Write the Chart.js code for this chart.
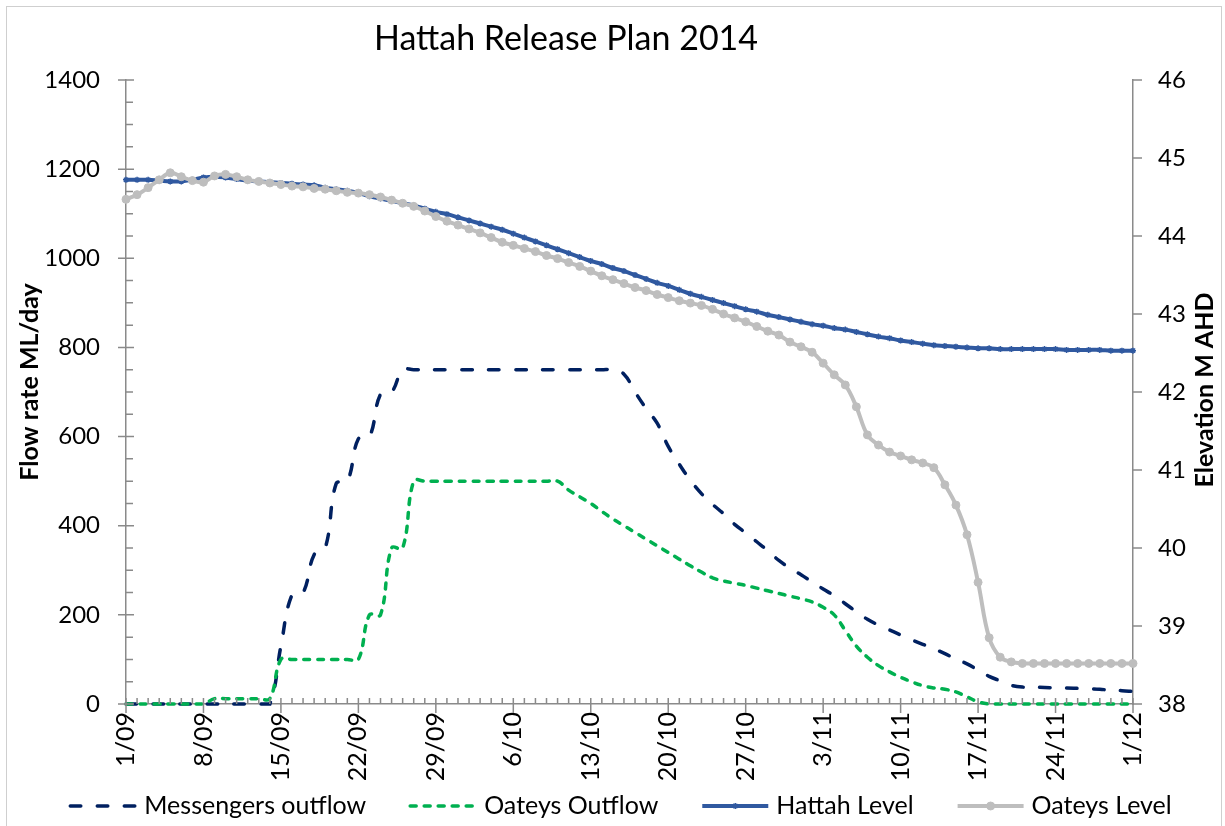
<!DOCTYPE html>
<html>
<head>
<meta charset="utf-8">
<title>Hattah Release Plan 2014</title>
<script src="https://cdn.jsdelivr.net/npm/chart.js@4.4.1/dist/chart.umd.min.js"></script>
<style>
    html, body { margin: 0; padding: 0; background: #fff; }
    #wrap { width: 1225px; height: 826px; position: relative; }
</style>
</head>
<body>
<div id="wrap"><canvas id="chart-release" width="1225" height="826"></canvas></div>
<script>
// Daily plan, 1 Sep 2014 -> 1 Dec 2014
const START_DATE = new Date(2014, 8, 1);
const DAY_COUNT = 92;

// Outflows (ML/day)
const messengersOutflow = [
    0, 0, 0, 0, 0, 0, 0, 0, 0, 0,
    0, 0, 0, 0, 130, 245, 250, 335, 350, 495,
    500, 595, 600, 695, 700, 750, 750, 750, 750, 750,
    750, 750, 750, 750, 750, 750, 750, 750, 750, 750,
    750, 750, 750, 750, 750, 740, 700, 663, 630, 578,
    538, 502, 472, 448, 427, 403, 384, 364, 344, 322,
    305, 290, 274, 258, 243, 225, 207, 190, 177, 166,
    155, 144, 134, 124, 113, 101, 90, 76, 62, 52,
    42, 38, 38, 37, 36, 36, 35, 34, 33, 31,
    30, 28
];
const oateysOutflow = [
    0, 0, 0, 0, 0, 0, 0, 0, 12, 12,
    12, 12, 12, 12, 100, 100, 100, 100, 100, 100,
    100, 100, 200, 200, 350, 350, 500, 500, 500, 500,
    500, 500, 500, 500, 500, 500, 500, 500, 500, 500,
    480, 465, 450, 432, 415, 400, 385, 370, 355, 340,
    325, 310, 296, 283, 276, 271, 266, 260, 254, 248,
    242, 236, 229, 217, 200, 165, 130, 105, 86, 72,
    60, 50, 41, 36, 33, 27, 16, 5, 0, 0,
    0, 0, 0, 0, 0, 0, 0, 0, 0, 0,
    0, 0
];

// Water levels (m AHD)
const hattahLevel = [
    44.72, 44.72, 44.72, 44.71, 44.70, 44.70, 44.72, 44.75, 44.76, 44.75,
    44.73, 44.71, 44.70, 44.69, 44.68, 44.67, 44.66, 44.65, 44.62, 44.60,
    44.58, 44.55, 44.51, 44.48, 44.45, 44.42, 44.39, 44.35, 44.31, 44.28,
    44.24, 44.20, 44.16, 44.12, 44.08, 44.03, 43.98, 43.93, 43.88, 43.83,
    43.78, 43.73, 43.68, 43.64, 43.59, 43.55, 43.50, 43.45, 43.40, 43.36,
    43.31, 43.26, 43.22, 43.18, 43.14, 43.10, 43.06, 43.03, 42.99, 42.96,
    42.93, 42.90, 42.87, 42.85, 42.82, 42.80, 42.77, 42.74, 42.71, 42.69,
    42.66, 42.64, 42.62, 42.60, 42.59, 42.58, 42.57, 42.56, 42.56, 42.55,
    42.55, 42.55, 42.55, 42.55, 42.55, 42.54, 42.54, 42.54, 42.54, 42.53,
    42.53, 42.53
];
const oateysLevel = [
    44.47, 44.53, 44.62, 44.72, 44.81, 44.76, 44.71, 44.69, 44.77, 44.79,
    44.76, 44.72, 44.70, 44.68, 44.66, 44.64, 44.63, 44.61, 44.60, 44.58,
    44.56, 44.55, 44.53, 44.50, 44.46, 44.42, 44.38, 44.32, 44.25, 44.19,
    44.14, 44.09, 44.04, 43.98, 43.92, 43.88, 43.84, 43.80, 43.75, 43.71,
    43.66, 43.61, 43.55, 43.49, 43.44, 43.39, 43.34, 43.30, 43.25, 43.21,
    43.17, 43.14, 43.11, 43.06, 43.00, 42.95, 42.90, 42.84, 42.78, 42.73,
    42.64, 42.58, 42.51, 42.37, 42.22, 42.09, 41.81, 41.45, 41.32, 41.23,
    41.18, 41.13, 41.09, 41.03, 40.81, 40.55, 40.17, 39.56, 38.85, 38.60,
    38.54, 38.52, 38.52, 38.52, 38.52, 38.52, 38.52, 38.52, 38.52, 38.52,
    38.52, 38.52
];

const FONT = "Lato, 'Open Sans', sans-serif";
const AXIS_COLOR = '#8a8a8a';

function buildDayLabels() {
    const labels = [];
    for (let i = 0; i < DAY_COUNT; i++) {
        const d = new Date(START_DATE.getTime());
        d.setDate(d.getDate() + i);
        const mm = String(d.getMonth() + 1).padStart(2, '0');
        labels.push(`${d.getDate()}/${mm}`);
    }
    return labels;
}

const days = buildDayLabels();

// Legend row along the bottom, line samples taken from the datasets
function drawLegend(chart, ctx) {
    const sampleW = 68, textGap = 8, itemGap = 42, centerX = 620, rowY = 806;
    ctx.font = `25px ${FONT}`;
    const items = chart.data.datasets.map(ds => ({ ds, textW: ctx.measureText(ds.label).width }));
    const total = items.reduce((s, it) => s + sampleW + textGap + it.textW, 0) + itemGap * (items.length - 1);
    let cx = centerX - total / 2;

    items.forEach(({ ds, textW }) => {
        ctx.save();
        ctx.strokeStyle = ds.borderColor;
        ctx.lineWidth = ds.borderWidth;
        ctx.lineCap = ds.borderCapStyle || 'butt';
        ctx.setLineDash(ds.borderDash || []);
        ctx.beginPath();
        ctx.moveTo(cx + 2, rowY);
        ctx.lineTo(cx + sampleW, rowY);
        ctx.stroke();
        ctx.setLineDash([]);
        if (ds.pointRadius > 0) {
            ctx.fillStyle = ds.backgroundColor;
            ctx.strokeStyle = ds.borderColor;
            ctx.lineWidth = ds.pointBorderWidth;
            Chart.helpers.drawPoint(ctx, {
                pointStyle: ds.pointStyle,
                radius: ds.pointRadius,
                borderWidth: ds.pointBorderWidth,
                rotation: 0
            }, cx + sampleW / 2 + 1, rowY);
        }
        ctx.restore();

        ctx.fillStyle = '#000';
        ctx.textAlign = 'left';
        ctx.textBaseline = 'middle';
        ctx.fillText(ds.label, cx + sampleW + textGap, rowY);
        cx += sampleW + textGap + textW + itemGap;
    });
}

// Titles, frame, legend and the Excel-style major/minor tick marks
const decorPlugin = {
    id: 'decor',
    afterDraw(chart) {
        const ctx = chart.ctx;
        const { x, y, y1 } = chart.scales;
        ctx.save();

        // outer frame
        ctx.strokeStyle = '#cfcfcf';
        ctx.lineWidth = 1;
        ctx.strokeRect(6.5, 6.5, 1215, 840);

        ctx.strokeStyle = AXIS_COLOR;
        ctx.lineWidth = 1.5;
        ctx.beginPath();
        // x axis: daily minor ticks inside, weekly majors crossing
        const xBase = y.bottom;
        for (let i = 0; i < days.length; i++) {
            const px = x.getPixelForValue(i);
            if (i % 7 === 0) { ctx.moveTo(px, xBase - 6); ctx.lineTo(px, xBase + 9); }
            else { ctx.moveTo(px, xBase - 6); ctx.lineTo(px, xBase); }
        }
        // left axis: minor every 50, major every 200
        for (let v = y.min; v <= y.max; v += 50) {
            const py = y.getPixelForValue(v);
            if (v % 200 === 0) { ctx.moveTo(y.right - 8, py); ctx.lineTo(y.right + 8, py); }
            else { ctx.moveTo(y.right, py); ctx.lineTo(y.right + 7, py); }
        }
        // right axis: majors outside
        for (let v = y1.min; v <= y1.max; v += 1) {
            const py = y1.getPixelForValue(v);
            ctx.moveTo(y1.left, py); ctx.lineTo(y1.left + 9, py);
        }
        ctx.stroke();

        // chart title
        ctx.fillStyle = '#000';
        ctx.font = `34px ${FONT}`;
        ctx.textAlign = 'center';
        ctx.textBaseline = 'alphabetic';
        ctx.fillText('Hattah Release Plan 2014', 566, 50);

        // axis titles, both read bottom to top
        ctx.font = `bold 25px ${FONT}`;
        ctx.textBaseline = 'middle';
        ctx.save();
        ctx.translate(30, 382);
        ctx.rotate(-Math.PI / 2);
        ctx.fillText('Flow rate ML/day', 0, 0);
        ctx.restore();
        ctx.save();
        ctx.translate(1205, 390);
        ctx.rotate(-Math.PI / 2);
        ctx.fillText('Elevation M AHD', 0, 0);
        ctx.restore();

        drawLegend(chart, ctx);
        ctx.restore();
    }
};

function initReleaseChart() {
    const ctx = document.getElementById('chart-release');
    window.releaseChart = new Chart(ctx, {
        type: 'line',
        data: {
            labels: days,
            datasets: [
                {
                    label: 'Messengers outflow',
                    data: messengersOutflow,
                    yAxisID: 'y',
                    borderColor: '#002060',
                    borderWidth: 3.5,
                    borderDash: [10.5, 16.5],
                    borderCapStyle: 'round',
                    pointRadius: 0,
                    tension: 0.4,
                    order: 3
                },
                {
                    label: 'Oateys Outflow',
                    data: oateysOutflow,
                    yAxisID: 'y',
                    borderColor: '#00B050',
                    borderWidth: 3.5,
                    borderDash: [6, 8],
                    borderCapStyle: 'round',
                    pointRadius: 0,
                    tension: 0.4,
                    order: 2
                },
                {
                    label: 'Hattah Level',
                    data: hattahLevel,
                    yAxisID: 'y1',
                    borderColor: '#3059A0',
                    backgroundColor: '#3059A0',
                    borderWidth: 4,
                    pointStyle: 'star',
                    pointRadius: 3,
                    pointBorderWidth: 1.5,
                    tension: 0.4,
                    order: 1
                },
                {
                    label: 'Oateys Level',
                    data: oateysLevel,
                    yAxisID: 'y1',
                    borderColor: '#BEBEBE',
                    backgroundColor: '#BEBEBE',
                    borderWidth: 4,
                    pointStyle: 'circle',
                    pointRadius: 4,
                    pointBorderWidth: 1,
                    tension: 0.4,
                    order: 0
                }
            ]
        },
        options: {
            responsive: false,
            animation: false,
            clip: 6,
            layout: { padding: { top: 80, left: 0, right: 0, bottom: 0 } },
            plugins: {
                title: { display: false },
                tooltip: { enabled: false },
                legend: { display: false }
            },
            scales: {
                x: {
                    type: 'category',
                    offset: false,
                    grid: { display: false, drawTicks: false },
                    border: { display: true, color: AXIS_COLOR, width: 1.5 },
                    ticks: {
                        autoSkip: false,
                        maxRotation: 90,
                        minRotation: 90,
                        padding: 8,
                        color: '#000',
                        font: { family: FONT, size: 25 },
                        callback: (val, i) => (i % 7 === 0 ? days[i] : '')
                    },
                    afterFit: scale => { scale.height = 122; }
                },
                y: {
                    position: 'left',
                    min: 0,
                    max: 1400,
                    grid: { display: false, drawTicks: false },
                    border: { display: true, color: AXIS_COLOR, width: 1.5 },
                    ticks: {
                        stepSize: 200, padding: 26, color: '#000',
                        font: { family: FONT, size: 24 },
                        callback: v => String(v)
                    },
                    afterFit: scale => { scale.width = 126; }
                },
                y1: {
                    position: 'right',
                    min: 38,
                    max: 46,
                    grid: { display: false, drawTicks: false },
                    border: { display: true, color: AXIS_COLOR, width: 1.5 },
                    ticks: {
                        stepSize: 1, padding: 25, color: '#000',
                        font: { family: FONT, size: 24 },
                        callback: v => String(v)
                    },
                    afterFit: scale => { scale.width = 92; }
                }
            }
        },
        plugins: [decorPlugin]
    });
}

initReleaseChart();
</script>
</body>
</html>
